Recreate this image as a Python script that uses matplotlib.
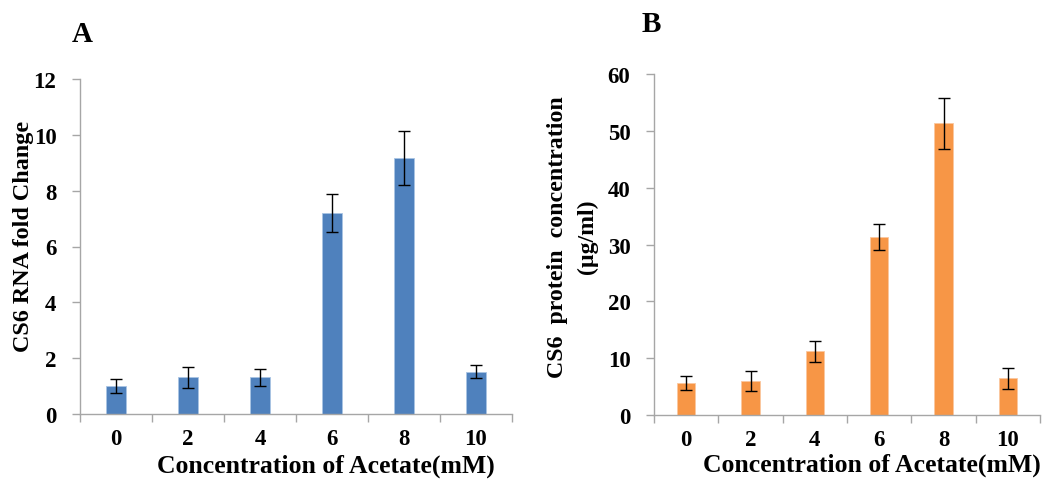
import matplotlib
matplotlib.use("Agg")
import matplotlib.pyplot as plt
import numpy as np

categories = ["0", "2", "4", "6", "8", "10"]
rna_fold = [1.0, 1.31, 1.31, 7.2, 9.16, 1.52]
rna_err = [0.24, 0.37, 0.29, 0.69, 0.97, 0.23]
protein = [5.6, 6.0, 11.2, 31.3, 51.3, 6.45]
protein_err = [1.2, 1.8, 1.9, 2.3, 4.5, 1.8]

plt.rcParams['font.family'] = ['Liberation Serif', 'DejaVu Serif']
plt.rcParams['font.weight'] = 'bold'

fig = plt.figure(figsize=(10.54, 4.89), dpi=100)
W, H = 1054, 489

def make_ax(l, r, b, t):
    return fig.add_axes([l / W, 1 - b / H, (r - l) / W, (b - t) / H])

axA = make_ax(80, 512, 415, 80)
axB = make_ax(654, 1040, 416, 75)

spine_col = '#a6a6a6'

def style(ax, vals, errs, color, edge, ymax, ystep, bw):
    x = np.arange(len(categories))
    ax.bar(x, vals, width=bw, color=color, edgecolor=edge, linewidth=0.6, zorder=2)
    ax.errorbar(x, vals, yerr=errs, fmt='none', ecolor='black', elinewidth=1.0,
                capsize=4.5, capthick=1.0, zorder=3)
    ax.set_xlim(-0.5, len(categories) - 0.5)
    ax.set_ylim(0, ymax)
    ax.set_yticks(np.arange(0, ymax + 0.1, ystep))
    ax.set_xticks(np.arange(-0.5, len(categories), 1.0))
    ax.set_xticklabels([])
    ax.set_xticks(x, minor=True)
    ax.set_xticklabels(categories, minor=True)
    ax.tick_params(axis='x', which='major', length=6, color=spine_col, width=1, direction='out')
    ax.tick_params(axis='x', which='minor', length=0, pad=10, labelsize=16.5)
    ax.tick_params(axis='y', which='major', length=6, color=spine_col, width=1, direction='out',
                   pad=11, labelsize=16.5)
    for lab in ax.get_xticklabels(minor=True) + ax.get_yticklabels():
        lab.set_fontweight('bold')
    for s in ['top', 'right']:
        ax.spines[s].set_visible(False)
    for s in ['left', 'bottom']:
        ax.spines[s].set_color(spine_col)
        ax.spines[s].set_linewidth(1)

style(axA, rna_fold, rna_err, '#4f81bd', '#a9c4e4', 12, 2, 0.29)
style(axB, protein, protein_err, '#f79646', '#fbc79f', 60, 10, 0.28)

axA.set_xlabel("Concentration of Acetate(mM)", fontsize=18.5, fontweight='bold')
axA.xaxis.set_label_coords(0.57, -0.152)
axA.xaxis.label.set_va('center')
axB.set_xlabel("Concentration of Acetate(mM)", fontsize=18.5, fontweight='bold')
axB.xaxis.set_label_coords(0.565, -0.145)
axB.xaxis.label.set_va('center')

axA.set_ylabel("CS6 RNA fold Change", fontsize=17.4, fontweight='bold')
axA.yaxis.set_label_coords(-0.13, 0.534)
axA.yaxis.label.set_va('center')
axB.set_ylabel("CS6  protein  concentration\n(\u00b5g/ml)", fontsize=17.2, fontweight='bold',
               linespacing=1.55)
axB.yaxis.set_label_coords(-0.21, 0.525)
axB.yaxis.label.set_va('center')

fig.text(72 / W, 1 - 35 / H, "A", fontsize=21, fontweight='bold', ha='left', va='center')
fig.text(642 / W, 1 - 24 / H, "B", fontsize=21, fontweight='bold', ha='left', va='center')

fig.savefig("out.png", dpi=100)
